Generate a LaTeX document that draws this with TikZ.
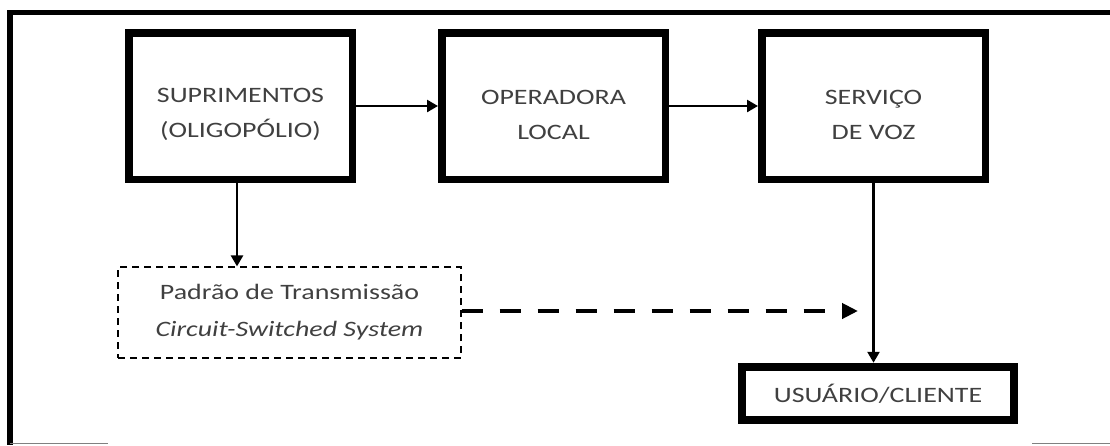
\documentclass[tikz,border=0pt]{standalone}
\usepackage{fontspec}
\setmainfont{Carlito}[FakeStretch=1.27]
\usetikzlibrary{arrows.meta}
\begin{document}
\begin{tikzpicture}[x=1pt,y=-1pt,
 bloco/.style={draw,line width=7.5pt,minimum width=223.5pt,minimum height=146.5pt},
 rotulo/.style={align=center,text=black!75,font=\fontsize{22}{35}\selectfont},
 seta/.style={line width=2.5pt,-{Triangle[length=11pt,width=12pt]}}]
 \useasboundingbox (0,0) rectangle (1110,445);
 \draw[line width=5.5pt](1110,12.5)--(10,12.5)--(10,445);
 \draw[gray,line width=1pt](10,443.5)--(108,443.5);
 \draw[gray,line width=1pt](1032,443.5)--(1110,443.5);
 \node[bloco,label={[rotulo,yshift=-8.5pt]center:SUPRIMENTOS\\(OLIGOPÓLIO)}] (sup) at (240.5,106) {};
 \node[bloco,label={[rotulo,yshift=-8.5pt]center:OPERADORA\\LOCAL}] (oper) at (553.5,106) {};
 \node[bloco,label={[rotulo,yshift=-8.5pt]center:SERVIÇO\\DE VOZ}] (voz) at (873.5,106) {};
 \node[bloco,rotulo,minimum width=272.5pt,minimum height=53.5pt,line width=8pt] (user) at (878,393.5) {USUÁRIO/CLIENTE};
 \node[draw,rotulo,line width=1.2pt,dash pattern=on 7pt off 5pt,minimum width=343pt,minimum height=91pt,font=\fontsize{22}{37}\selectfont] (padrao) at (289.5,312.5) {Padrão de Transmissão\\\textit{Circuit-Switched System}};
 \coordinate (fim) at (858,311);
 \draw[seta](sup)--(oper);
 \draw[seta](oper)--(voz);
 \draw[seta](sup.south-|237,0)--(padrao.north-|237,0);
 \draw[seta](voz.south)--(voz.south|-user.north);
 \draw[line width=4.5pt,dash pattern=on 21pt off 17pt,-{Triangle[length=16pt,width=15pt]}](padrao.east|-fim)--(fim);
\end{tikzpicture}
\end{document}
